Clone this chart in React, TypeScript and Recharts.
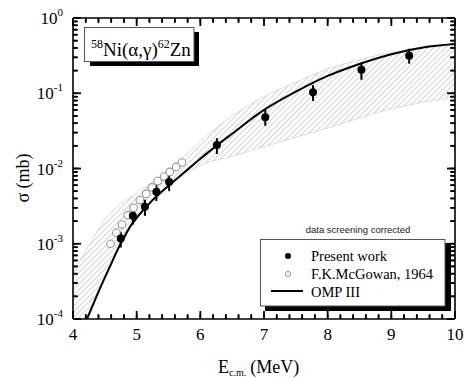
import React from 'react';
import { ComposedChart, XAxis, YAxis, Line, Area, Scatter, ErrorBar } from 'recharts';

// present work (filled dots with error bars)
const PW_E = [4.75, 4.94, 5.13, 5.31, 5.51, 6.26, 7.02, 7.77, 8.53, 9.28];
const PW_S = [1.17e-3, 2.35e-3, 3.1e-3, 4.9e-3, 6.6e-3, 2.05e-2, 4.8e-2, 1.03e-1, 2.05e-1, 3.15e-1];
const PW_ERR_LO = [2.8e-4, 5.5e-4, 7.5e-4, 1.2e-3, 1.6e-3, 4.9e-3, 1.1e-2, 2.4e-2, 5.4e-2, 6.8e-2];
const PW_ERR_HI = [2.7e-4, 5.5e-4, 7.5e-4, 1.2e-3, 1.5e-3, 4.8e-3, 1.2e-2, 2.5e-2, 5.0e-2, 7.5e-2];

// F.K.McGowan, 1964 (open circles)
const MG_E = [4.59, 4.68, 4.77, 4.86, 4.95, 5.05, 5.15, 5.24, 5.33, 5.43, 5.52, 5.62, 5.71];
const MG_S = [1.0e-3, 1.4e-3, 1.8e-3, 2.4e-3, 3.0e-3, 3.8e-3, 4.6e-3, 5.6e-3, 6.8e-3, 7.8e-3, 9.0e-3, 1.05e-2, 1.2e-2];

// OMP III calculation
const CURVE_E = [4.22, 4.3, 4.4, 4.5, 4.6, 4.7, 4.8, 4.9, 5.0, 5.25, 5.5, 5.75, 6.0, 6.25, 6.5, 7.0, 7.5, 8.0, 8.5, 9.0, 9.5, 10];
const CURVE_S = [1.0e-4, 1.45e-4, 2.3e-4, 3.55e-4, 5.4e-4, 8.3e-4, 1.2e-3, 1.7e-3, 2.2e-3, 3.8e-3, 5.9e-3, 8.9e-3, 1.35e-2, 2.0e-2, 2.9e-2, 6.0e-2, 1.05e-1, 1.7e-1, 2.45e-1, 3.3e-1, 4.05e-1, 4.5e-1];

// hatched uncertainty band
const BAND_E = [4.0, 4.25, 4.5, 4.75, 5.0, 5.25, 5.5, 5.75, 6.0, 6.5, 7.0, 7.5, 8.0, 8.5, 9.0, 9.5, 10];
const BAND_LO = [4.0e-5, 1.15e-4, 3.6e-4, 1.1e-3, 2.25e-3, 3.8e-3, 5.9e-3, 8.3e-3, 1.1e-2, 1.45e-2, 1.95e-2, 2.6e-2, 3.45e-2, 4.7e-2, 6.2e-2, 7.6e-2, 8.9e-2];
const BAND_HI = [4.2e-4, 9.5e-4, 2.1e-3, 3.4e-3, 4.7e-3, 6.6e-3, 9.4e-3, 1.45e-2, 2.3e-2, 5.0e-2, 9.0e-2, 1.4e-1, 2.1e-1, 2.8e-1, 3.5e-1, 4.1e-1, 4.6e-1];

// axis ticks
const X_TICKS = [4, 4.2, 4.4, 4.6, 4.8, 5, 5.2, 5.4, 5.6, 5.8, 6, 6.2, 6.4, 6.6, 6.8, 7, 7.2, 7.4, 7.6, 7.8, 8, 8.2, 8.4, 8.6, 8.8, 9, 9.2, 9.4, 9.6, 9.8, 10];
const Y_TICKS = [
  1e-4, 2e-4, 3e-4, 4e-4, 5e-4, 6e-4, 7e-4, 8e-4, 9e-4,
  1e-3, 2e-3, 3e-3, 4e-3, 5e-3, 6e-3, 7e-3, 8e-3, 9e-3,
  1e-2, 2e-2, 3e-2, 4e-2, 5e-2, 6e-2, 7e-2, 8e-2, 9e-2,
  1e-1, 2e-1, 3e-1, 4e-1, 5e-1, 6e-1, 7e-1, 8e-1, 9e-1, 1,
];
const Y_LABELS: Record<string, string> = { '0.0001': '-4', '0.001': '-3', '0.01': '-2', '0.1': '-1', '1': '0' };

const pwData = PW_E.map((e, i) => ({ e, s: PW_S[i], err: [PW_ERR_LO[i], PW_ERR_HI[i]] }));
const mgData = MG_E.map((e, i) => ({ e, s: MG_S[i] }));
const curveData = CURVE_E.map((e, i) => ({ e, s: CURVE_S[i] }));
const bandData = BAND_E.map((e, i) => ({ e, band: [BAND_LO[i], BAND_HI[i]] }));

const majorX = (v: number) => Math.abs(v - Math.round(v)) < 1e-6;

// built-in tick lines point inward (negative tickSize); the margin brings x/y back to the frame
const TICK_SIZE = -5;
const TICK_MARGIN = 5;

const BottomTick = (p: any) => {
  const x = Number(p.x), y = Number(p.y);
  const m = majorX(p.payload.value);
  return (
    <g>
      <path d={`M${x},${y}V${y - (m ? 8 : 4)}`} stroke="#000" strokeWidth={1.8} fill="none" />
      {m && (
        <text x={x} y={y + 21} textAnchor="middle" fontSize={17} fontFamily="Liberation Serif" fill="#000">
          {p.payload.value}
        </text>
      )}
    </g>
  );
};
const TopTick = (p: any) => {
  const x = Number(p.x), y = Number(p.y);
  const m = majorX(p.payload.value);
  return <g><path d={`M${x},${y}V${y + (m ? 8 : 4)}`} stroke="#000" strokeWidth={1.8} fill="none" /></g>;
};
const LeftTick = (p: any) => {
  const x = Number(p.x), y = Number(p.y);
  const lab = Y_LABELS[String(p.payload.value)];
  return (
    <g>
      <path d={`M${x},${y}H${x + (lab ? 8 : 4)}`} stroke="#000" strokeWidth={1.8} fill="none" />
      {lab && (
        <text x={x - 10} y={y + 6} textAnchor="end" fontSize={17} fontFamily="Liberation Serif" fill="#000">
          10<tspan fontSize={11} dy={-8}>{lab}</tspan>
        </text>
      )}
    </g>
  );
};
const RightTick = (p: any) => {
  const x = Number(p.x), y = Number(p.y);
  const lab = Y_LABELS[String(p.payload.value)];
  return <g><path d={`M${x},${y}H${x - (lab ? 8 : 4)}`} stroke="#000" strokeWidth={1.8} fill="none" /></g>;
};

const AXIS_LINE = { stroke: '#000', strokeWidth: 1.6 };
const TICK_LINE = { stroke: '#000', strokeWidth: 1.5 };

export default function App() {
  return (
    <div style={{ position: 'absolute', left: 0, top: 0, width: 464, height: 378, background: '#fff' }}>
      <svg width={464} height={378} style={{ position: 'absolute', left: 0, top: 0 }}>
        {/* reaction label */}
        <rect x={90} y={32} width={109} height={34} fill="#000" />
        <rect x={84.5} y={27.5} width={109.5} height={34} fill="#fff" stroke="#555" strokeWidth={1} />
        <text x={91} y={56} fontSize={19} fontFamily="Liberation Serif" fill="#000">
          <tspan fontSize={12} dy={-8}>58</tspan>
          <tspan dy={8}>Ni(α,γ)</tspan>
          <tspan fontSize={12} dy={-8}>62</tspan>
          <tspan dy={8}>Zn</tspan>
        </text>

        <text x={358} y={233} textAnchor="middle" fontSize={9.5} fontFamily="Liberation Sans" fill="#222">
          data screening corrected
        </text>

        {/* legend */}
        <rect x={265} y={243} width={186} height={68} fill="#000" />
        <rect x={260.5} y={239.5} width={184.5} height={66.5} fill="#fff" stroke="#555" strokeWidth={1} />
        <circle cx={288} cy={256} r={3} fill="#000" />
        <text x={311} y={261} fontSize={14.5} fontFamily="Liberation Serif" fill="#000">Present work</text>
        <circle cx={288} cy={274} r={2.6} fill="#fff" stroke="#9a9a9a" strokeWidth={1} />
        <text x={311} y={279} fontSize={14.5} fontFamily="Liberation Serif" fill="#000">F.K.McGowan, 1964</text>
        <line x1={271} x2={303} y1={291} y2={291} stroke="#000" strokeWidth={2} />
        <text x={311} y={297} fontSize={14.5} fontFamily="Liberation Serif" fill="#000">OMP III</text>

        {/* axis titles */}
        <text x={218} y={373} fontSize={18} fontFamily="Liberation Serif" fill="#000">
          E<tspan fontSize={10} dy={3}>c.m.</tspan>
          <tspan dy={-3} dx={4}>(MeV)</tspan>
        </text>
        <text x={0} y={0} transform="translate(29 178) rotate(-90)" textAnchor="middle"
          fontSize={18} fontFamily="Liberation Serif" fill="#000">
          σ (mb)
        </text>
      </svg>

      <ComposedChart width={464} height={378} margin={{ top: 0, right: 0, bottom: 0, left: 0 }}>
        <defs>
          <pattern id="hatch" width="4" height="4" patternUnits="userSpaceOnUse" patternTransform="rotate(45)">
            <line x1="0" y1="0" x2="0" y2="4" stroke="#8a8a8a" strokeWidth="0.75" />
          </pattern>
        </defs>
        <XAxis dataKey="e" type="number" domain={[4, 10]} ticks={X_TICKS} interval={0} height={59}
          tickSize={TICK_SIZE} tickMargin={TICK_MARGIN} axisLine={AXIS_LINE} tickLine={TICK_LINE}
          stroke="#000" tick={BottomTick} />
        <XAxis xAxisId="top" orientation="top" dataKey="e" type="number" domain={[4, 10]} ticks={X_TICKS}
          interval={0} height={18} tickSize={TICK_SIZE} tickMargin={TICK_MARGIN} axisLine={AXIS_LINE}
          tickLine={TICK_LINE} stroke="#000" tick={TopTick} />
        <YAxis type="number" scale="log" domain={[1e-4, 1]} ticks={Y_TICKS} interval={0} allowDataOverflow width={73}
          tickSize={TICK_SIZE} tickMargin={TICK_MARGIN} axisLine={AXIS_LINE} tickLine={TICK_LINE}
          stroke="#000" tick={LeftTick} />
        <YAxis yAxisId="right" orientation="right" type="number" scale="log" domain={[1e-4, 1]} ticks={Y_TICKS}
          interval={0} allowDataOverflow width={9} tickSize={TICK_SIZE} tickMargin={TICK_MARGIN}
          axisLine={AXIS_LINE} tickLine={TICK_LINE} stroke="#000" tick={RightTick} />
        <Area data={bandData} dataKey="band" type="monotone" fill="url(#hatch)" fillOpacity={1}
          stroke="#c8c8c8" strokeWidth={0.6} isAnimationActive={false} />
        {/* carries the top and right axes so that their ticks are drawn */}
        <Line xAxisId="top" yAxisId="right" data={curveData} dataKey="s" stroke="none" dot={false}
          activeDot={false} isAnimationActive={false} />
        <Scatter data={mgData} dataKey="s" isAnimationActive={false}
          shape={(p: any) => <circle cx={p.cx} cy={p.cy} r={3.8} fill="#fff" stroke="#999" strokeWidth={1.1} />} />
        <Line data={curveData} dataKey="s" type="monotone" stroke="#000" strokeWidth={2}
          dot={false} activeDot={false} isAnimationActive={false} />
        <Scatter data={pwData} dataKey="s" isAnimationActive={false}
          shape={(p: any) => <circle cx={p.cx} cy={p.cy} r={4} fill="#000" />}>
          <ErrorBar dataKey="err" direction="y" width={0} stroke="#000" strokeWidth={2} isAnimationActive={false} />
        </Scatter>
      </ComposedChart>
    </div>
  );
}
